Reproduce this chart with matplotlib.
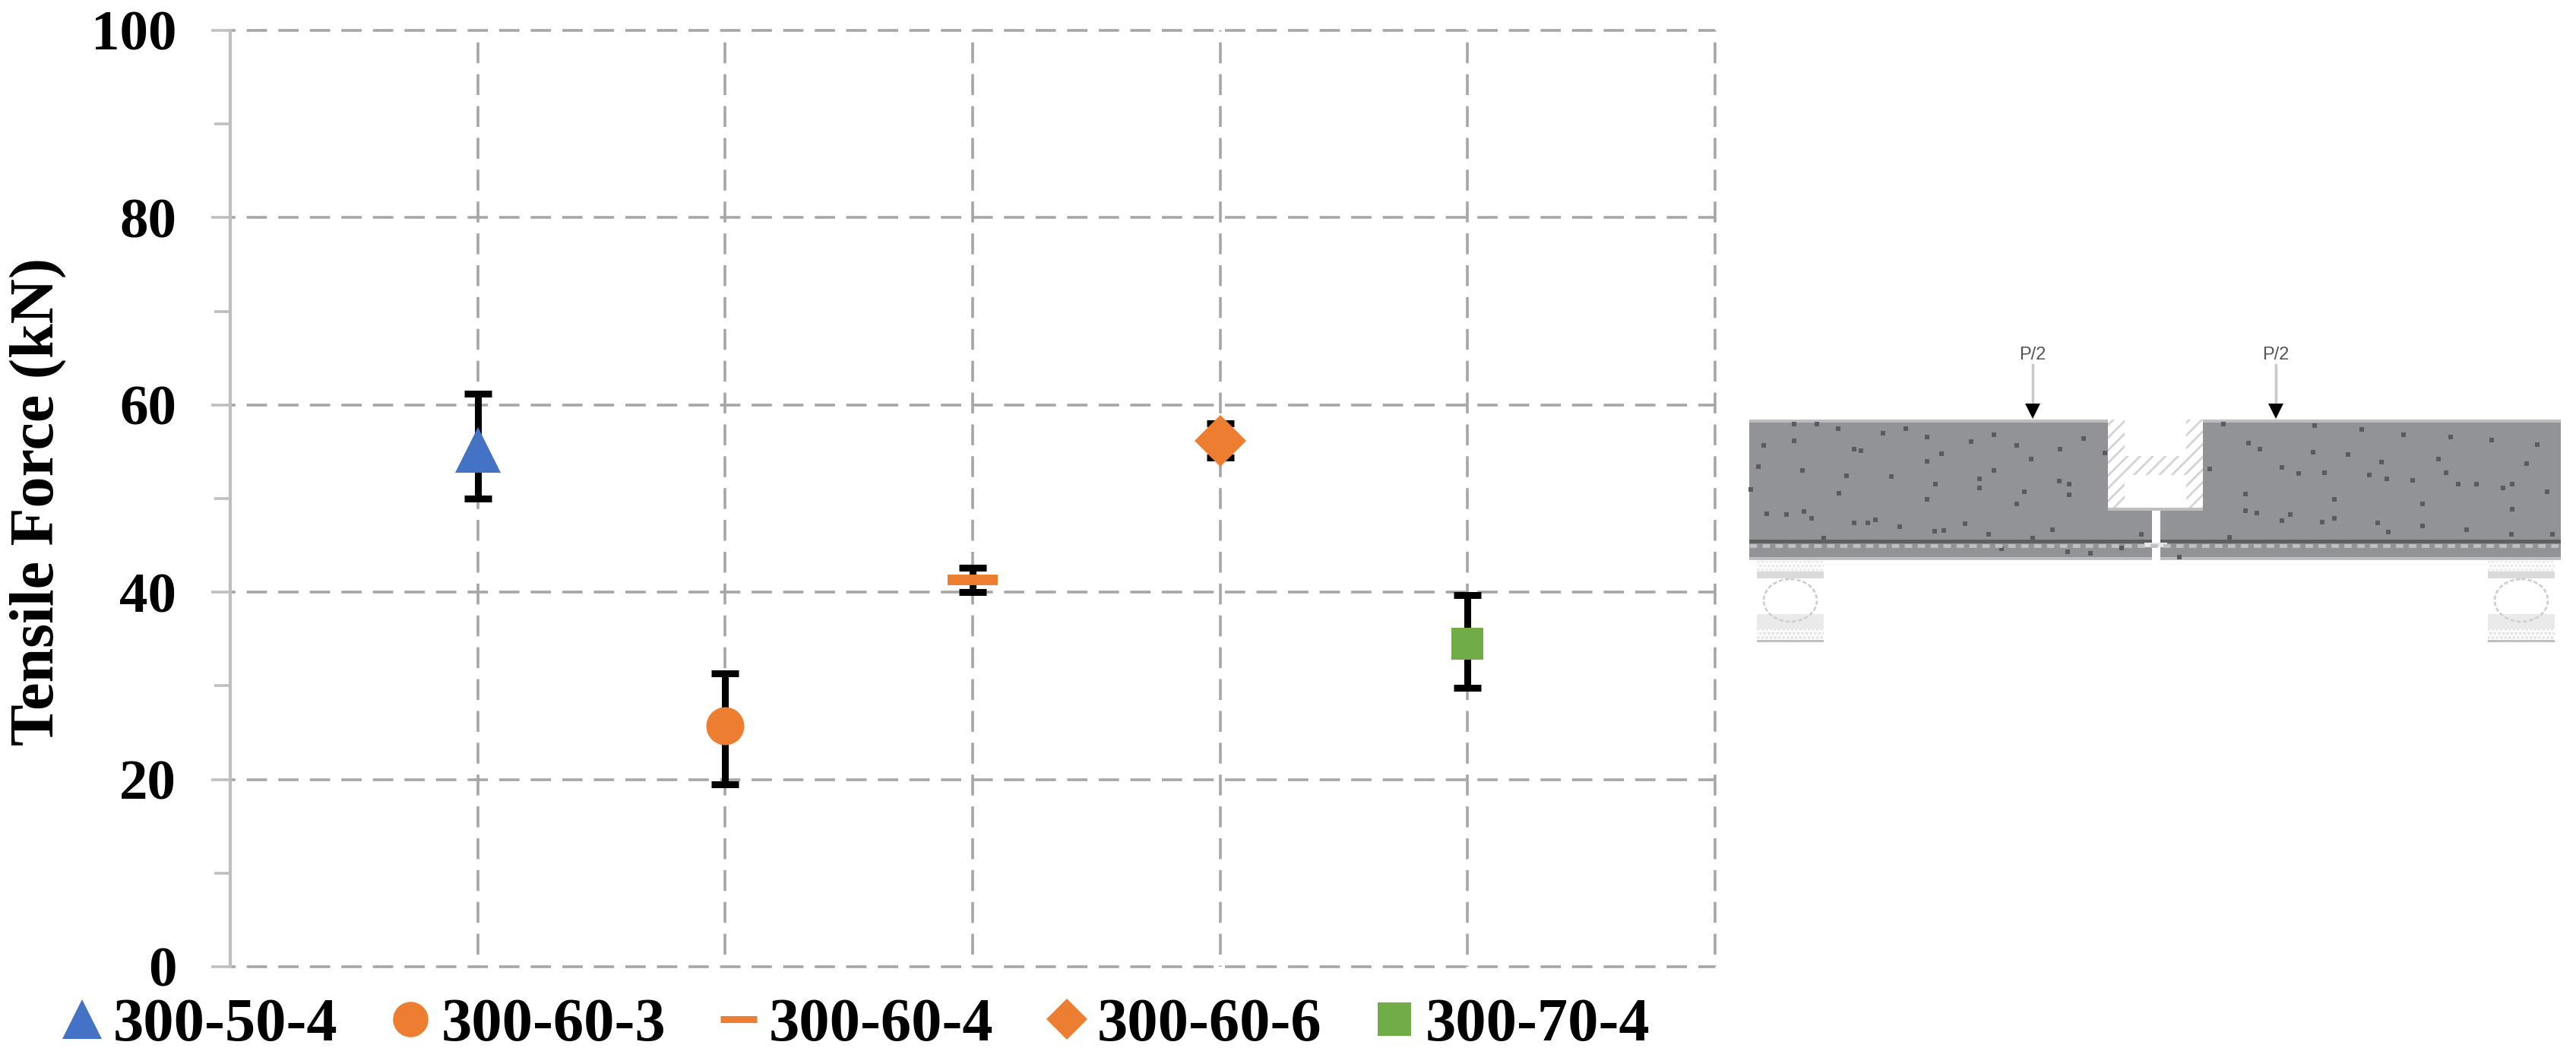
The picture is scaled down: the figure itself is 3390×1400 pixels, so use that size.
import matplotlib
matplotlib.use('Agg')
import matplotlib.pyplot as plt
from matplotlib.lines import Line2D
from matplotlib.patches import Rectangle, Ellipse

plt.rcParams['font.family'] = ['Liberation Serif', 'DejaVu Serif']
plt.rcParams['hatch.linewidth'] = 2.0

# Data
specimens = ['300-50-4', '300-60-3', '300-60-4', '300-60-6', '300-70-4']
positions = [1, 2, 3, 4, 5]
force = [55.2, 25.7, 41.3, 56.2, 34.5]
err_top = [61.2, 31.3, 42.6, 58.0, 39.7]
err_bottom = [50.0, 19.5, 40.0, 54.4, 29.8]
y_ticks = [0, 20, 40, 60, 80, 100]
y_minor = [10, 30, 50, 70, 90]
x_ticks = [0, 1, 2, 3, 4, 5, 6]

markers = ['^', 'o', '_', 'D', 's']
colors = ['#4472C4', '#ED7D31', '#ED7D31', '#ED7D31', '#70AD47']
sizes = [43, 36, 47, 35, 30]
legend_sizes = [37.5, 33.5, 34, 28, 31]

# Speckles in the concrete, read from the beam (pixels of the reference)
speckles_x = [2361, 2391, 2419, 2478, 2508, 2536, 2624, 2594, 2361, 2321, 2654, 2440, 2449,
              2711, 2742, 2555, 2673, 2536, 2314, 2372, 2624, 2430, 2489, 2605, 2547, 2710,
              2723, 2664, 2420, 2605, 2723, 2536, 2654, 2374, 2325, 2351, 2384, 2440, 2458,
              2468, 2500, 2586, 2546, 2558, 2617, 2701, 2400, 2675, 2818, 2634, 2721, 2751,
              2792, 2770, 2304,
              2926, 3046, 3108, 3163, 3225, 3279, 3339, 2959, 2974, 3044, 3090, 3134, 3209,
              3325, 3003, 3025, 3059, 3118, 3141, 3175, 3219, 3235, 3259, 3306, 3294, 2955,
              3072, 3352, 3188, 2955, 2970, 3014, 3306, 3072, 3056, 3129, 3188, 3143, 3246,
              3305, 3359, 2934, 2868, 3003, 2908]
speckles_y = [558, 558, 564, 570, 564, 575, 572, 581, 580, 586, 586, 591, 593,
              591, 577, 597, 604, 607, 614, 619, 619, 626, 627, 630, 637, 633,
              637, 647, 649, 642, 651, 657, 663, 673, 676, 677, 682, 688, 688,
              684, 693, 689, 699, 698, 703, 697, 708, 708, 703, 722, 726, 728,
              721, 596, 644,
              558, 560, 565, 572, 575, 579, 585, 583, 591, 595, 598, 608, 604,
              610, 615, 623, 622, 625, 630, 632, 622, 637, 637, 637, 642, 650,
              657, 647, 663, 672, 675, 677, 670, 682, 687, 688, 692, 700, 697,
              703, 703, 707, 733, 685, 617]

fig = plt.figure(figsize=(33.9, 14), dpi=100)
ax = fig.add_axes([303 / 3390, 128 / 1400, 1954 / 3390, 1232 / 1400])

# Grid first, marks above
gray = '#A6A6A6'
ax.set_axisbelow(True)
ax.grid(True, which='major', axis='y', color=gray, linewidth=2.6, linestyle=(5.5, (7.4, 4.1)))
ax.grid(True, which='major', axis='x', color=gray, linewidth=2.6, linestyle=(7.2, (7.6, 4.0)))
for gl in ax.get_xgridlines() + ax.get_ygridlines():
    gl.set_clip_on(False)
    gl.set_dash_capstyle('butt')

for x, y, lo, hi, m, c, s in zip(positions, force, err_bottom, err_top, markers, colors, sizes):
    ax.errorbar([x], [y], yerr=[[y - lo], [hi - y]], fmt='none', ecolor='black',
                elinewidth=6.5, capsize=13.3, capthick=6.5, zorder=3)
    if m == '_':
        ax.plot([x], [y], marker=m, color=c, markersize=s, markeredgewidth=10,
                linestyle='none', zorder=4)
    else:
        ax.plot([x], [y], marker=m, color=c, markersize=s, markeredgewidth=0,
                linestyle='none', zorder=4)

ax.set_xlim(0, 6)
ax.set_ylim(0, 100)
ax.set_xticks(x_ticks)
ax.set_xticklabels([])
ax.set_yticks(y_ticks)
ax.set_yticks(y_minor, minor=True)
ax.tick_params(axis='x', length=0)
ax.tick_params(axis='y', which='major', length=18, width=2.6, color='#BFBFBF', pad=33,
               labelsize=54)
ax.tick_params(axis='y', which='minor', length=15, width=2.6, color='#BFBFBF')
for label in ax.get_yticklabels():
    label.set_fontweight('bold')

for side in ['top', 'right', 'bottom']:
    ax.spines[side].set_visible(False)
ax.spines['left'].set_color('#BFBFBF')
ax.spines['left'].set_linewidth(3)

ax.set_ylabel('Tensile Force (kN)', fontsize=59, fontweight='bold')
ax.yaxis.set_label_coords(-0.110, 0.497)

# Legend
handles = []
for m, c, s in zip(markers, colors, legend_sizes):
    handles.append(Line2D([], [], marker=m, color=c, markersize=s, linestyle='none',
                          markeredgewidth=6.5 if m == '_' else 0))
ax.legend(handles, specimens, ncol=5, loc='upper left', bbox_to_anchor=(-0.112, -0.033),
          frameon=False, handlelength=0.6, handletextpad=0.2,
          columnspacing=0.89, borderpad=0, borderaxespad=0,
          prop={'size': 58, 'weight': 'bold'})

# Beam sketch on the right, in reference pixels
sk = fig.add_axes([0, 0, 1, 1], facecolor='none')
sk.set_xlim(0, 3390)
sk.set_ylim(1400, 0)
sk.axis('off')

beam = '#929397'
edge = '#BDBDBD'
sk.add_patch(Rectangle((2302, 552), 472, 185, color=beam, lw=0))
sk.add_patch(Rectangle((2899, 552), 471, 185, color=beam, lw=0))
sk.add_patch(Rectangle((2774, 668), 125, 69, color=beam, lw=0))
sk.add_patch(Rectangle((2302, 552), 472, 4, color=edge, lw=0))
sk.add_patch(Rectangle((2899, 552), 471, 4, color=edge, lw=0))
sk.add_patch(Rectangle((2302, 733), 1068, 4, color=edge, lw=0))
sk.add_patch(Rectangle((2774, 668), 125, 4, color=edge, lw=0))

# Form work hatching in the notch
for xy, w, h in [((2774, 552), 22, 116), ((2877, 552), 22, 116), ((2796, 600), 81, 25)]:
    sk.add_patch(Rectangle(xy, w, h, facecolor='white', edgecolor='#D4D4D4', hatch='//', lw=0))

sk.scatter(speckles_x, speckles_y, s=24, marker='s', color='#5A5B60', linewidths=0)

# Reinforcement bar
sk.add_patch(Rectangle((2302, 710), 1068, 5, color='#5F5F62', lw=0))
sk.plot([2302, 3370], [717.5, 717.5], color='#BFC0C2', lw=3.5, linestyle=(0, (2, 1.5)))

# Saw cut
sk.add_patch(Rectangle((2832, 672), 11, 65, color='white', lw=0))
sk.add_patch(Rectangle((2822, 714), 30, 6, color='#E6E6E6', lw=0))

# Loads
for x in [2675, 2995]:
    sk.text(x, 467, 'P/2', family='Liberation Sans', fontsize=17, color='#555555',
            ha='center', va='center')
    sk.plot([x, x], [480, 535], color='#C8C8C8', lw=2.5)
    sk.plot([x], [541], marker='v', color='black', markersize=15, markeredgewidth=0)

# Roller supports
for x in [2312, 3274]:
    sk.add_patch(Rectangle((x, 738), 88, 14, facecolor='white', edgecolor='#E8E8E8',
                           hatch='...', lw=0))
    sk.add_patch(Rectangle((x, 752), 88, 9, color='#DADADA', lw=0))
    sk.add_patch(Rectangle((x, 808), 88, 19, color='#EAEAEA', lw=0))
    sk.add_patch(Rectangle((x, 827), 88, 15, facecolor='white', edgecolor='#E0E0E0',
                           hatch='...', lw=0))
    sk.add_patch(Rectangle((x, 842), 88, 3, color='#BFBFBF', lw=0))
    sk.add_patch(Ellipse((x + 44, 790), 70, 56, facecolor='none', edgecolor='#D0D0D0',
                         lw=2, linestyle=(0, (2, 1))))

fig.savefig('out.png', dpi=100, facecolor='white')
